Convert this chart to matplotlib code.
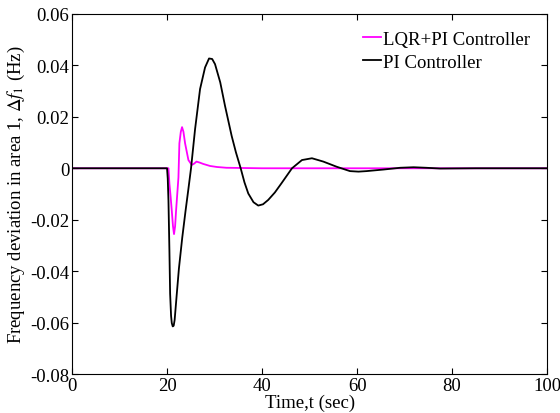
import matplotlib
matplotlib.use("Agg")
import matplotlib.pyplot as plt

plt.rcParams['font.family'] = ['Liberation Serif', 'DejaVu Serif']
plt.rcParams['mathtext.fontset'] = 'stix'
plt.rcParams['axes.unicode_minus'] = False

# PI controller response
t_pi = [0, 10, 20.0, 20.15, 20.3, 20.5, 20.65, 20.85, 21.0, 21.2, 21.4, 21.6, 22.0, 22.5,
        23.2, 23.9, 24.5, 25.05, 25.9, 26.95, 28.0, 28.84, 29.5, 30.1, 31.2, 32.2, 33.6,
        34.5, 35.5, 36.3, 37.1, 38.2, 39.2, 40.2, 41.3, 42.7, 44.1, 46.3, 48.4, 50.5, 52.9,
        55.7, 58.5, 60.3, 62.0, 65.5, 69.1, 71.9, 74.5, 77.5, 85, 100]
v_pi = [0, 0, 0, -0.004, -0.0126, -0.032, -0.0488, -0.0574, -0.0602, -0.0615, -0.0612,
        -0.059, -0.050, -0.039, -0.027, -0.0165, -0.008, 0.0, 0.0152, 0.0308, 0.0392,
        0.0427, 0.0425, 0.0405, 0.0334, 0.0243, 0.0126, 0.0062, 0.0, -0.0055, -0.0098,
        -0.0132, -0.0145, -0.0140, -0.0123, -0.0094, -0.0058, 0.0, 0.0032, 0.0039, 0.0026,
        0.0006, -0.0011, -0.0013, -0.0011, -0.0005, 0.0002, 0.0004, 0.0002, -0.0001, 0.0, 0.0]

# LQR+PI controller response
t_lqr = [0, 10, 20.3, 20.5, 20.75, 21.0, 21.25, 21.47, 21.7, 21.9, 22.4, 22.6, 22.9, 23.16,
         23.45, 23.8, 24.5, 25.2, 25.7, 26.2, 26.9, 27.6, 29.05, 30.5, 32.5, 40, 100]
v_lqr = [0, 0, 0, -0.006, -0.011, -0.0165, -0.0225, -0.0256, -0.0225, -0.0165, -0.0036,
         0.0097, 0.0142, 0.016, 0.0142, 0.0097, 0.0032, 0.0013, 0.0018, 0.0026, 0.0022,
         0.0017, 0.0009, 0.0005, 0.0002, 0.0, 0.0]

xticks = [0, 20, 40, 60, 80, 100]
yticks = [-0.08, -0.06, -0.04, -0.02, 0, 0.02, 0.04, 0.06]
ytick_labels = ['-0.08', '-0.06', '-0.04', '-0.02', '0', '0.02', '0.04', '0.06']

fig = plt.figure(figsize=(5.6, 4.14), dpi=100)
ax = fig.add_axes([0.1286, 0.0942, 0.8484, 0.8696])

ax.plot(t_lqr, v_lqr, color='#ff00ff', lw=1.3, label='LQR+PI Controller')
ax.plot(t_pi, v_pi, color='black', lw=1.3, label='PI Controller')

ax.set_xlim(0, 100)
ax.set_ylim(-0.08, 0.06)
ax.set_xticks(xticks)
ax.set_xticklabels([str(x) for x in xticks])
ax.set_yticks(yticks)
ax.set_yticklabels(ytick_labels)
ax.tick_params(direction='in', top=True, right=True, labelsize=13.5, length=4, width=0.8, pad=2)
for s in ax.spines.values():
    s.set_linewidth(0.8)

ax.set_xlabel('Time,t (sec)', fontsize=13.5, labelpad=0)
ax.set_ylabel(r'Frequency deviation in area 1, $\Delta f_1$ (Hz)', fontsize=13.5, labelpad=2)

ax.legend(loc='upper right', frameon=False, fontsize=13.5, handlelength=1.0,
          handletextpad=0.1, borderaxespad=0.5, labelspacing=0.3)

fig.savefig('out.png', dpi=100)
